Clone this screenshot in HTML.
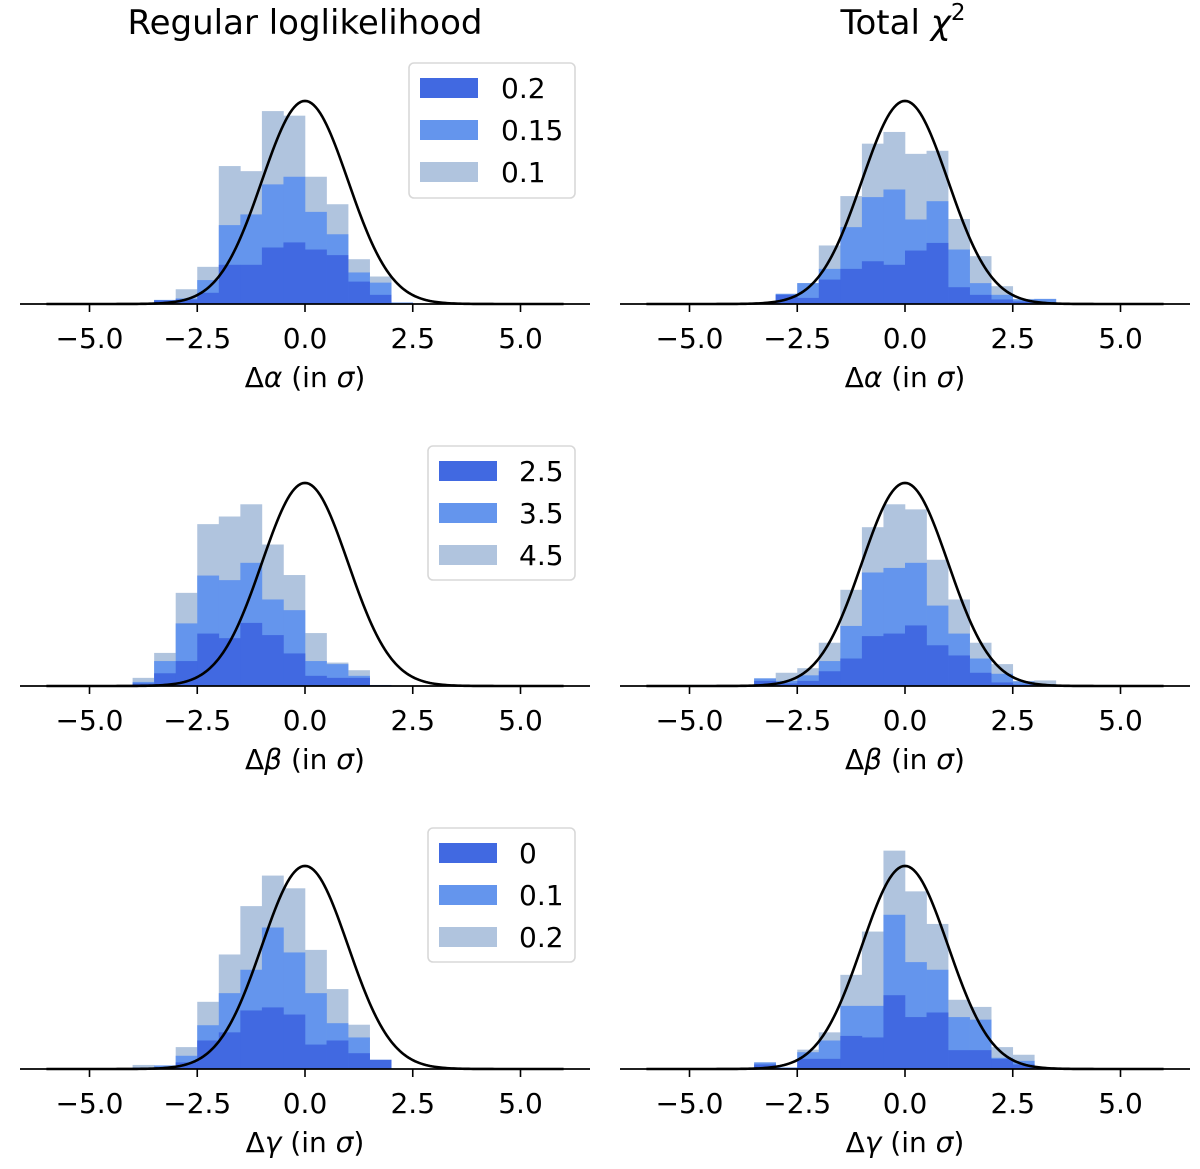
<!DOCTYPE html>
<html><head><meta charset="utf-8">
<style>
html,body{margin:0;padding:0;background:#fff;}
svg{display:block;font-family:"DejaVu Sans","Liberation Sans",sans-serif;}
</style></head>
<body>
<svg id="fig" width="1200" height="1169" viewBox="0 0 1200 1169" xmlns="http://www.w3.org/2000/svg">
<text x="305" y="34" font-size="34" text-anchor="middle">Regular loglikelihood</text>
<text x="903" y="34" font-size="34" text-anchor="middle">Total <tspan font-style="italic">χ</tspan><tspan font-size="23" dy="-14">2</tspan></text>
</svg>
<script>
const binWidth = 0.5;
const tickValues = [-5, -2.5, 0, 2.5, 5];
const tickLabels = ["\u22125.0", "\u22122.5", "0.0", "2.5", "5.0"];
const xLabels = ["\u0394\u03b1", "\u0394\u03b2", "\u0394\u03b3"];
const legendLabelsAlpha = ["0.2", "0.15", "0.1"];
const legendLabelsBeta = ["2.5", "3.5", "4.5"];
const legendLabelsGamma = ["0", "0.1", "0.2"];

const aL_start = -3.5;
const aL_light = [0.008,0.029,0.073,0.271,0.261,0.379,0.370,0.250,0.196,0.088,0.054,0.003];
const aL_med   = [0.008,0.011,0.047,0.155,0.176,0.235,0.250,0.181,0.137,0.062,0.042,0.003];
const aL_dark  = [0.007,0.009,0.022,0.077,0.077,0.111,0.121,0.107,0.096,0.044,0.018,0.001];
const aR_start = -3.5;
const aR_light = [0.003,0.020,0.041,0.115,0.212,0.315,0.338,0.295,0.301,0.167,0.094,0.035,0.010,0.010];
const aR_med   = [0.003,0.020,0.041,0.069,0.151,0.210,0.225,0.166,0.202,0.107,0.041,0.018,0.009,0.010];
const aR_dark  = [0.002,0.018,0.012,0.048,0.069,0.084,0.077,0.105,0.120,0.033,0.018,0.009,0.005,0.003];
const bL_start = -4.0;
const bL_light = [0.016,0.065,0.183,0.318,0.333,0.357,0.278,0.218,0.104,0.046,0.031,0.002,0.001];
const bL_med   = [0.008,0.049,0.123,0.217,0.208,0.242,0.170,0.149,0.049,0.043,0.020,0.002,0.001];
const bL_dark  = [0.005,0.025,0.049,0.103,0.094,0.124,0.100,0.064,0.020,0.016,0.016,0.001,0.001];
const bR_start = -5.0;
const bR_light = [0.002,0.002,0,0.015,0.026,0.035,0.085,0.189,0.312,0.357,0.347,0.248,0.170,0.085,0.043,0.010,0.011,0,0,0.002];
const bR_med   = [0.002,0.002,0,0.015,0.010,0.021,0.049,0.118,0.223,0.232,0.242,0.158,0.103,0.054,0.024,0.009,0.002,0,0,0.002];
const bR_dark  = [0,0,0,0.010,0.005,0.010,0.029,0.054,0.098,0.103,0.119,0.080,0.060,0.026,0.007,0.003,0,0,0,0];
const cL_start = -4.0;
const cL_light = [0.008,0.007,0.043,0.132,0.225,0.320,0.380,0.355,0.234,0.157,0.087,0.018];
const cL_med   = [0.003,0.007,0.026,0.086,0.149,0.195,0.278,0.229,0.149,0.090,0.062,0.018];
const cL_dark  = [0.002,0.003,0.013,0.056,0.072,0.115,0.121,0.107,0.048,0.056,0.031,0.018];
const cR_start = -3.5;
const cR_light = [0.013,0.003,0.038,0.072,0.185,0.270,0.429,0.349,0.285,0.136,0.122,0.043,0.028];
const cR_med   = [0.013,0.003,0.033,0.056,0.124,0.124,0.303,0.210,0.195,0.102,0.097,0.022,0.016];
const cR_dark  = [0.009,0.002,0.020,0.020,0.065,0.062,0.145,0.102,0.111,0.037,0.037,0.020,0.009];

const NS = "http://www.w3.org/2000/svg";
const svg = document.getElementById("fig");
const COLORS = {light:"#b0c4de", med:"#6495ed", dark:"#4169e1"};
const PXU = 43.1, DENS = 509;
function mk(tag, attrs, parent){ const e=document.createElementNS(NS,tag); for(const k in attrs) e.setAttribute(k,attrs[k]); (parent||svg).appendChild(e); return e; }

function panel(cx, base, start, light, med, dark, xlab, legend, legendBox, key){
  const g = mk("g",{});
  
  
  const xs = v => cx + v*PXU;
  const ys = d => base - d*DENS;
  [["light",light],["med",med],["dark",dark]].forEach(([c,arr])=>{
    arr.forEach((d,i)=>{
      if(d<=0) return;
      const x0 = start + i*binWidth;
      const r = mk("rect",{x:xs(x0), y:ys(d), width:binWidth*PXU+0.3, height:d*DENS, fill:COLORS[c]}, g);
      
      
    });
  });
  let p = "";
  for(let v=-6; v<=6.0001; v+=0.05){ const d=Math.exp(-v*v/2)/Math.sqrt(2*Math.PI); p += (p?"L":"M")+xs(v).toFixed(2)+","+ys(d).toFixed(2); }
  const curve = mk("path",{d:p, fill:"none", stroke:"#000", "stroke-width":2.6}, g);
  
  
  const ax = mk("line",{x1:cx-285, x2:cx+285, y1:base, y2:base, stroke:"#000", "stroke-width":1.8}, g);
  
  
  tickValues.forEach((v,i)=>{
    const t = mk("line",{x1:xs(v), x2:xs(v), y1:base, y2:base+8, stroke:"#000", "stroke-width":1.6}, g);
    
    
    const tl = mk("text",{x:xs(v), y:base+44, "font-size":28, "text-anchor":"middle"}, g);
    tl.textContent = tickLabels[i];
    
    
  });
  const lab = mk("text",{x:cx, y:base+83, "font-size":28, "text-anchor":"middle"}, g);
  lab.innerHTML = xlab.charAt(0)+'<tspan font-style="italic">'+xlab.charAt(1)+'</tspan> (in <tspan font-style="italic">σ</tspan>)';
  
  
  if(legend){
    const [bx,by,bw,bh,px,tx] = legendBox;
    const lg = mk("g",{}, g);
    
    
    mk("rect",{x:bx,y:by,width:bw,height:bh,rx:5,fill:"#fff","fill-opacity":0.85,stroke:"#d8d8d8","stroke-width":1.6}, lg);
    ["dark","med","light"].forEach((c,i)=>{
      const cy = by+25+i*42;
      const sw = mk("rect",{x:px,y:cy-10,width:58,height:20,fill:COLORS[c]}, lg);
      
      
      const lt = mk("text",{x:tx,y:cy+10,"font-size":28}, lg);
      lt.textContent = legend[i];
      
      
    });
  }
}
panel(305, 304, aL_start, aL_light, aL_med, aL_dark, xLabels[0], legendLabelsAlpha, [409,63,166,135,420,501], "alpha-regular");
panel(905, 304, aR_start, aR_light, aR_med, aR_dark, xLabels[0], null, null, "alpha-chi2");
panel(305, 686, bL_start, bL_light, bL_med, bL_dark, xLabels[1], legendLabelsBeta, [428,446,147,134,439,519], "beta-regular");
panel(905, 686, bR_start, bR_light, bR_med, bR_dark, xLabels[1], null, null, "beta-chi2");
panel(305, 1069, cL_start, cL_light, cL_med, cL_dark, xLabels[2], legendLabelsGamma, [428,828,147,134,439,519], "gamma-regular");
panel(905, 1069, cR_start, cR_light, cR_med, cR_dark, xLabels[2], null, null, "gamma-chi2");
</script>
</body></html>
